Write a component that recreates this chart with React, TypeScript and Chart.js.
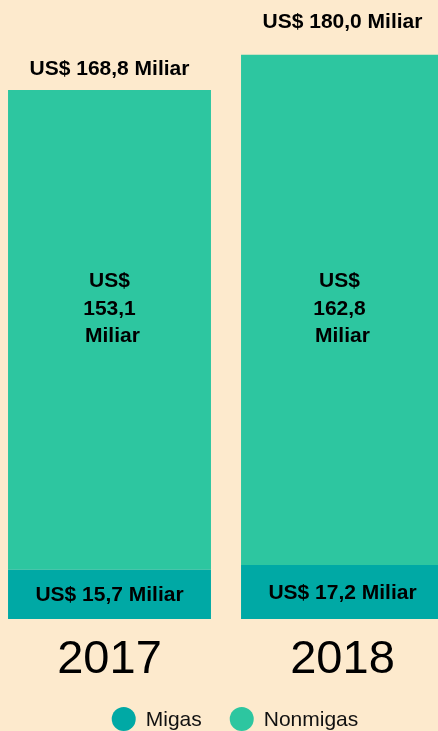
import React, { useEffect, useRef } from "react";
import { Chart, registerables } from "chart.js";

Chart.register(...registerables);

const categories = ["2017", "2018"];
const migasValues = [15.7, 17.2];
const nonmigasValues = [153.1, 162.8];
const seriesNames = ["Migas", "Nonmigas"];
const seriesColors = ["#00a9a5", "#2dc6a0"];

const BG = "#fdeacd";
const FONT = "'Liberation Sans', Arial, sans-serif";

const fmt = (v: number) => v.toFixed(1).replace(".", ",");

const labelPlugin = {
  id: "valueLabels",
  afterDatasetsDraw(chart: any) {
    const ctx = chart.ctx;
    const y = chart.scales.y;
    const area = chart.chartArea;
    const topOffsets = [21, 33];
    const midShift = [0, -3];
    ctx.save();
    ctx.fillStyle = "#000";
    ctx.textAlign = "center";
    ctx.textBaseline = "middle";
    ctx.font = `bold 21px ${FONT}`;
    const metaM = chart.getDatasetMeta(0);
    categories.forEach((_, i) => {
      const bar = metaM.data[i];
      const x = bar.x;
      const total = migasValues[i] + nonmigasValues[i];
      ctx.fillText(`US$ ${fmt(total)} Miliar`, x, y.getPixelForValue(total) - topOffsets[i]);
      const mTop = y.getPixelForValue(migasValues[i]);
      const mBot = y.getPixelForValue(0);
      ctx.fillText(`US$ ${fmt(migasValues[i])} Miliar`, x, (mTop + mBot) / 2 + 1);
      const cy = area.bottom - 310;
      const lh = 27.5;
      const mx = x + midShift[i];
      ctx.fillText("US$", mx, cy - lh);
      ctx.fillText(fmt(nonmigasValues[i]), mx, cy);
      ctx.fillText(" Miliar", mx, cy + lh);
    });
    ctx.restore();
  },
};

const legendPlugin = {
  id: "customLegend",
  afterDraw(chart: any) {
    const ctx = chart.ctx;
    const area = chart.chartArea;
    ctx.save();
    ctx.font = `21px ${FONT}`;
    ctx.textBaseline = "middle";
    ctx.textAlign = "left";
    const r = 12;
    const gap = 10;
    const spacing = 28;
    const widths = seriesNames.map((n) => 2 * r + gap + ctx.measureText(n).width);
    const total = widths.reduce((a, b) => a + b, 0) + spacing * (widths.length - 1);
    let x = (area.left + area.right) / 2 + 9 - total / 2;
    const cy = 719;
    seriesNames.forEach((n, i) => {
      ctx.fillStyle = seriesColors[i];
      ctx.beginPath();
      ctx.arc(x + r, cy, r, 0, Math.PI * 2);
      ctx.fill();
      ctx.fillStyle = "#111";
      ctx.fillText(n, x + 2 * r + gap, cy + 1);
      x += widths[i] + spacing;
    });
    ctx.restore();
  },
};

export default function App() {
  const ref = useRef<HTMLCanvasElement | null>(null);
  useEffect(() => {
    if (!ref.current) return;
    document.body.style.margin = "0";
    document.body.style.background = BG;
    const chart = new Chart(ref.current, {
      type: "bar",
      data: {
        labels: categories,
        datasets: [
          { label: seriesNames[0], data: migasValues, backgroundColor: seriesColors[0], borderWidth: 0 },
          { label: seriesNames[1], data: nonmigasValues, backgroundColor: seriesColors[1], borderWidth: 0 },
        ],
      },
      options: {
        responsive: false,
        animation: false,
        layout: { padding: { top: 23.5, bottom: 29.6, left: 0, right: 0 } },
        datasets: { bar: { categoryPercentage: 1, barPercentage: 0.871 } },
        scales: {
          x: {
            stacked: true,
            grid: { display: false, drawTicks: false },
            border: { display: false },
            ticks: { color: "#000", padding: 13, font: { family: FONT, size: 47, lineHeight: 1.2 } },
          },
          y: { stacked: true, display: false, min: 0, max: 190 },
        },
        plugins: { legend: { display: false }, tooltip: { enabled: false } },
      },
      plugins: [labelPlugin, legendPlugin],
    });
    return () => chart.destroy();
  }, []);
  return (
    <div style={{ position: "fixed", left: 0, top: 0, width: 438, height: 731, overflow: "hidden", background: BG }}>
      <canvas ref={ref} width={466} height={731} style={{ position: "absolute", left: -7, top: 0, width: 466, height: 731 }} />
    </div>
  );
}
